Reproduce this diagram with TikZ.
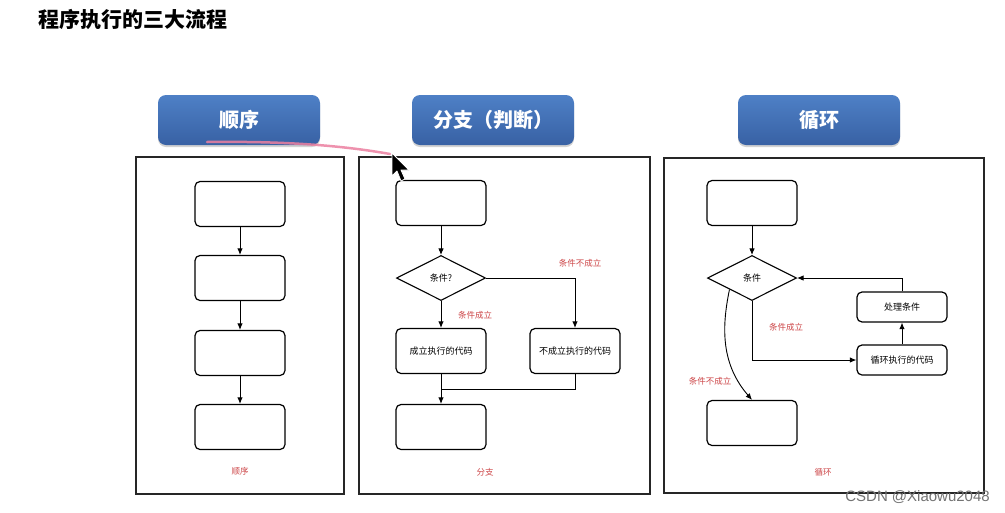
\documentclass[tikz,border=0pt]{standalone}
\usepackage{fontspec}
\newfontfamily\cjk{Noto Sans CJK SC}
\newfontfamily\wmfont{Liberation Sans}
\usetikzlibrary{shapes.geometric,arrows.meta,shadows}
\definecolor{btntop}{RGB}{78,128,198}
\definecolor{btnbot}{RGB}{56,97,164}
\definecolor{lblred}{RGB}{205,70,72}
\definecolor{penpink}{RGB}{236,128,160}
\tikzset{
  panel/.style={draw=black!85, line width=1.3pt},
  bx/.style={draw=black, line width=1.2pt, rounded corners=5pt, minimum width=90pt, minimum height=45pt, inner sep=0pt, font=\cjk\fontsize{9}{10}\selectfont},
  cond/.style={diamond, draw=black, line width=1.1pt, aspect=2, minimum width=89pt, minimum height=45pt, inner sep=0pt, font=\cjk\fontsize{9}{10}\selectfont},
  btn/.style={rounded corners=8pt, minimum width=162pt, minimum height=50pt, top color=btntop, bottom color=btnbot, draw=none, text=white, font=\cjk\bfseries\fontsize{20}{22}\selectfont, drop shadow={shadow xshift=0pt, shadow yshift=-2pt, opacity=0.35}},
  lbl/.style={text=lblred, font=\cjk\fontsize{8.5}{10}\selectfont, inner sep=0pt},
  arr/.style={draw=black, line width=0.9pt, -{Latex[length=6.5pt,width=5.5pt]}},
  ln/.style={draw=black, line width=0.9pt},
}
\begin{document}
\begin{tikzpicture}[x=1pt,y=-1pt]
\useasboundingbox (0,0) rectangle (1005,512);
\fill[white] (0,0) rectangle (1005,512);
% title
\node[anchor=west, inner sep=0pt, font=\cjk\bfseries\fontsize{21}{24}\selectfont] (title) at (38,20) {程序执行的三大流程};
% buttons
\node[btn] (b1) at (239,120) {顺序};
\node[btn] (b2) at (493,120) {分支（判断）};
\node[btn] (b3) at (819,120) {循环};
% panels
\draw[panel] (136,157) rectangle (344,494);
\draw[panel] (359,157) rectangle (650,494);
\draw[panel] (664,158) rectangle (984,493);
% panel 1
\node[bx] (s1) at (240,204) {};
\node[bx] (s2) at (240,278) {};
\node[bx] (s3) at (240,353) {};
\node[bx] (s4) at (240,427) {};
\draw[arr] (s1) -- (s2);
\draw[arr] (s2) -- (s3);
\draw[arr] (s3) -- (s4);
\node[lbl] (l1) at (240,471) {顺序};
% panel 2
\node[bx] (f1) at (441,203) {};
\node[cond] (fd) at (441,278) {条件?};
\node[bx] (fy) at (441,351) {成立执行的代码};
\node[bx] (fn) at (575,351) {不成立执行的代码};
\node[bx] (fe) at (441,427) {};
\coordinate (fm) at (441,389);
\draw[arr] (f1) -- (fd);
\draw[arr] (fd.south) -- (fy.north);
\draw[arr] (fd.east) -| (fn.north);
\draw[ln] (fn.south) |- (fm);
\draw[arr] (fy.south) -- (fe.north);
\node[lbl] (fl1) at (475,315) {条件成立};
\node[lbl] (fl2) at (580,263) {条件不成立};
\node[lbl] (fl3) at (485,472) {分支};
% panel 3
\node[bx] (c1) at (752,203) {};
\node[cond] (cd) at (752,278) {条件};
\node[bx, minimum height=30pt] (cp) at (902,307) {处理条件};
\node[bx, minimum height=30pt] (cl) at (902,360) {循环执行的代码};
\node[bx] (ce) at (752,423) {};
\draw[arr] (c1) -- (cd);
\draw[arr] (cd.south) |- (cl.west);
\draw[arr] (cl.north) -- (cp.south);
\draw[arr] (cp.north) |- (cd.east);
\draw[arr] (cd.south west) .. controls (721,330) and (722,365) .. (ce.north);
\node[lbl] (cl1) at (786,327) {条件成立};
\node[lbl] (cl2) at (710,381) {条件不成立};
\node[lbl] (cl3) at (823,472) {循环};
% pen stroke and cursor
\draw[penpink, line width=2.5pt, opacity=0.85, line cap=round] (207,142) .. controls (290,141) and (345,146) .. (390,154);
\draw[white, line width=0.8pt, fill=black, line join=round] (392,153) -- (392,176) -- (397,171) -- (401,181) -- (405,179) -- (401,170) -- (409,170) -- cycle;
% watermark
\node[anchor=east, inner sep=0pt, text=black!55, font=\wmfont\fontsize{15}{16}\selectfont] (wm) at (990,497) {CSDN @Xiaowu2048};
\end{tikzpicture}
\end{document}
